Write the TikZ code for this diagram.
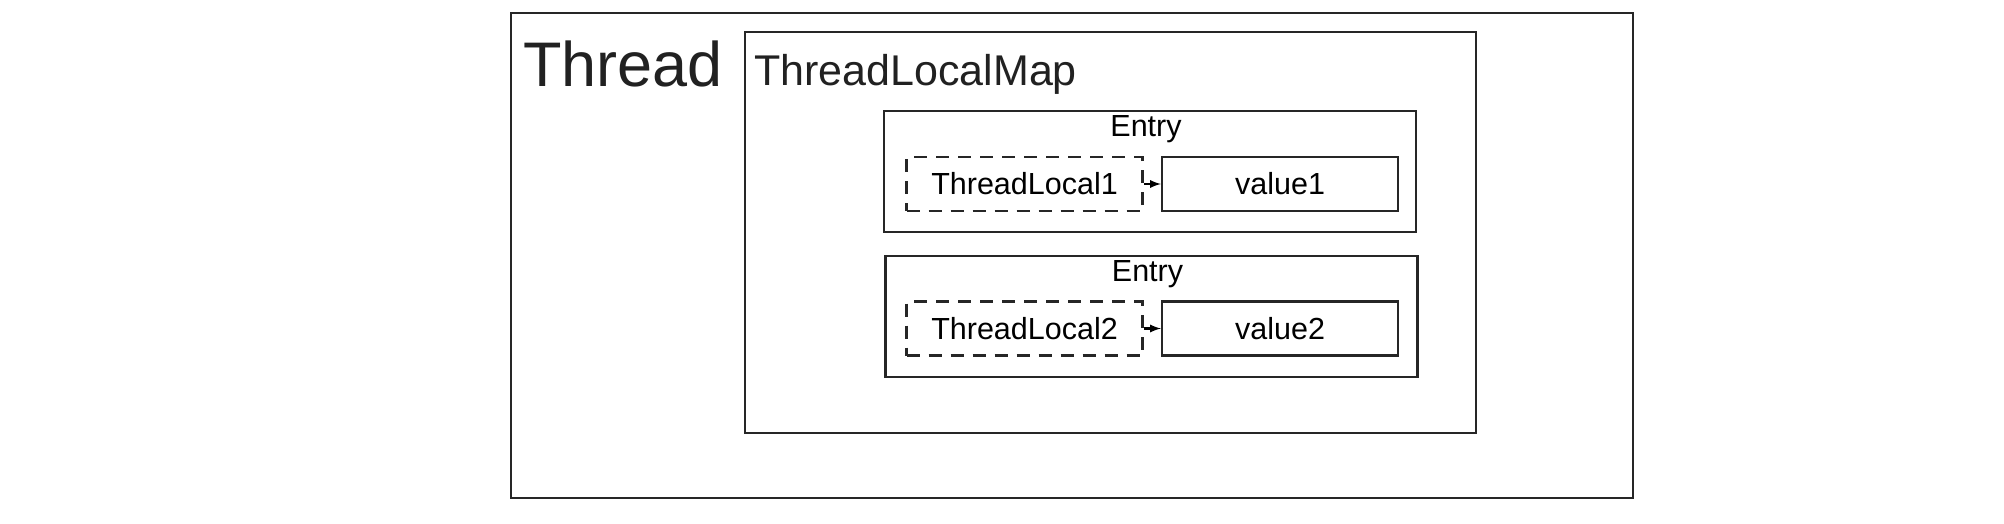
\documentclass[tikz,border=0pt]{standalone}
\usepackage{fontspec}
\setmainfont{Liberation Sans}
\usetikzlibrary{positioning}

\begin{document}
\begin{tikzpicture}[x=1pt,y=-1pt]
\tikzstyle{box}=[rectangle, draw=black!85, line width=2.6pt, inner sep=0pt]
\tikzstyle{cell}=[box, minimum width=236pt, minimum height=54pt, font=\fontsize{30.5}{36}\selectfont]
\tikzstyle{keycell}=[cell, dash pattern=on 13pt off 9pt]
\tikzstyle{entrybox}=[box, minimum width=532pt, minimum height=121pt]
\tikzstyle{title}=[inner sep=0pt, anchor=base, font=\fontsize{30.5}{36}\selectfont]
\tikzstyle{connect}=[-latex, line width=2.6pt]
\useasboundingbox (0,0) rectangle (2004,524);
\node[box, minimum width=1122pt, minimum height=485pt] (thread) at (1072,255.5) {};
\node[inner sep=0pt, anchor=base west, font=\fontsize{63}{63}\selectfont, text=black!87] (threadname) at (523,87) {Thread};
\node[box, minimum width=731pt, minimum height=401pt] (tlmap) at (1110.5,232.5) {};
\node[inner sep=0pt, anchor=base west, font=\fontsize{43}{43}\selectfont, text=black!87] (tlmapname) at (754,86) {ThreadLocalMap};
\node[entrybox] (entry1) at (1150,171.5) {};
\node[title] (entryname1) at ([xshift=-4pt,yshift=-27pt]entry1.north) {Entry};
\node[keycell] (key1) at (1024.5,184) {ThreadLocal1};
\node[cell] (value1) [right=17pt of key1] {value1};
\node[entrybox] (entry2) at (1151.5,316.5) {};
\node[title] (entryname2) at ([xshift=-4pt,yshift=-27pt]entry2.north) {Entry};
\node[keycell] (key2) at (1024.5,328.5) {ThreadLocal2};
\node[cell] (value2) [right=17pt of key2] {value2};
\path (key1) edge [connect] (value1)
      (key2) edge [connect] (value2);
\end{tikzpicture}
\end{document}
